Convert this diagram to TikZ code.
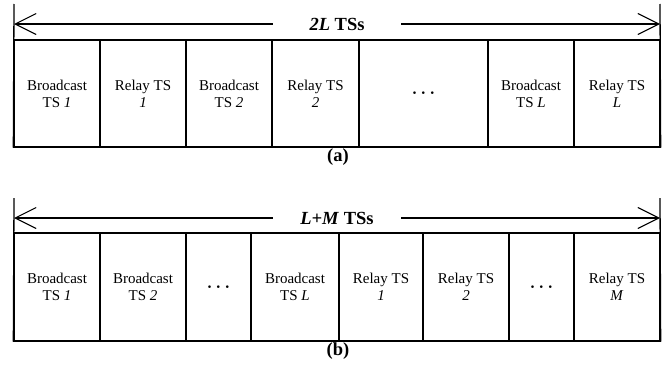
\documentclass[tikz,border=0pt]{standalone}
\usepackage{fontspec}
\setmainfont{Liberation Serif}
\usetikzlibrary{arrows.meta}
\begin{document}
\begin{tikzpicture}[x=1pt,y=-1pt,
  cell/.style={draw, line width=1.3pt, inner sep=0pt, align=center,
    font=\fontsize{15}{17}\selectfont},
  ttl/.style={inner sep=0pt, minimum width=128pt, minimum height=20pt,
    font=\fontsize{18.5}{20}\selectfont\bfseries},
  panelcap/.style={inner sep=0pt, font=\fontsize{18.5}{20}\selectfont\bfseries},
  endline/.style={line width=1.3pt},
  arr/.style={line width=1.1pt, -{Straight Barb[length=21pt,width=21pt,line width=1.1pt]}}]
\newcommand{\mydots}{{\fontsize{18}{20}\selectfont\boldmath$\cdots$}}
\useasboundingbox (0,0) rectangle (672,375);
% ---------- panel (a)
\def\ya{93.5}
\node[cell, minimum width=86pt, minimum height=107pt] (a1) at (57,\ya) {Broadcast\\TS \textit{1}};
\node[cell, minimum width=86pt, minimum height=107pt] (a2) at (143,\ya) {Relay TS\\\textit{1}};
\node[cell, minimum width=86pt, minimum height=107pt] (a3) at (229,\ya) {Broadcast\\TS \textit{2}};
\node[cell, minimum width=87pt, minimum height=107pt] (a4) at (315.5,\ya) {Relay TS\\\textit{2}};
\node[cell, minimum width=129pt, minimum height=107pt] (a5) at (423.5,\ya) {\mydots};
\node[cell, minimum width=86pt, minimum height=107pt] (a6) at (531,\ya) {Broadcast\\TS \textit{L}};
\node[cell, minimum width=86pt, minimum height=107pt] (a7) at (617,\ya) {Relay TS\\\textit{L}};
\coordinate (aLt) at (14,4);
\coordinate (aRt) at (660,4);
\draw[endline] (aLt) -- (a1.south west);
\draw[endline] (aRt) -- (a7.south east);
\node[ttl] (at) at (337,24) {\textit{2L} TSs};
\coordinate (aLa) at (14,24);
\coordinate (aRa) at (660,24);
\draw[arr] (at.west) -- (aLa);
\draw[arr] (at.east) -- (aRa);
\node[panelcap] (acap) at (338,157) {(a)};
% ---------- panel (b)
\def\yb{287}
\node[cell, minimum width=86pt, minimum height=108pt] (b1) at (57,\yb) {Broadcast\\TS \textit{1}};
\node[cell, minimum width=86pt, minimum height=108pt] (b2) at (143,\yb) {Broadcast\\TS \textit{2}};
\node[cell, minimum width=65pt, minimum height=108pt] (b3) at (218.5,\yb) {\mydots};
\node[cell, minimum width=88pt, minimum height=108pt] (b4) at (295,\yb) {Broadcast\\TS \textit{L}};
\node[cell, minimum width=84pt, minimum height=108pt] (b5) at (381,\yb) {Relay TS\\\textit{1}};
\node[cell, minimum width=86pt, minimum height=108pt] (b6) at (466,\yb) {Relay TS\\\textit{2}};
\node[cell, minimum width=65pt, minimum height=108pt] (b7) at (541.5,\yb) {\mydots};
\node[cell, minimum width=86pt, minimum height=108pt] (b8) at (617,\yb) {Relay TS\\\textit{M}};
\coordinate (bLt) at (14,198);
\coordinate (bRt) at (660,198);
\draw[endline] (bLt) -- (b1.south west);
\draw[endline] (bRt) -- (b8.south east);
\node[ttl] (bt) at (337,218) {\textit{L+M} TSs};
\coordinate (bLa) at (14,218);
\coordinate (bRa) at (660,218);
\draw[arr] (bt.west) -- (bLa);
\draw[arr] (bt.east) -- (bRa);
\node[panelcap] (bcap) at (338,351) {(b)};
\end{tikzpicture}
\end{document}
